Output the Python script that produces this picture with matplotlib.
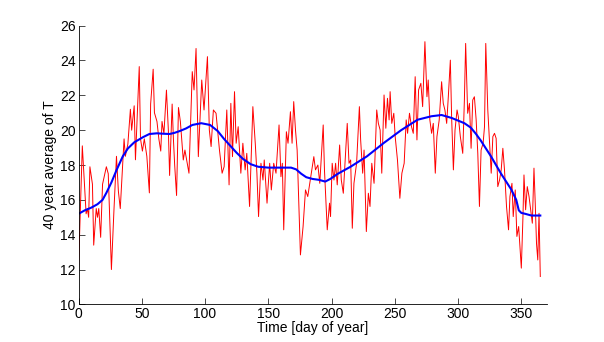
import numpy as np
import matplotlib
matplotlib.use('Agg')
import matplotlib.pyplot as plt

# daily 40-year mean temperature (peaks and troughs)
days = [0, 3, 6, 7, 8, 9, 11, 12, 14, 15, 16, 17.5, 19, 22, 23.5, 26, 28, 30, 31.5, 33,
        36, 37, 39, 41, 42, 44, 45, 48, 49, 50.5, 52, 54, 56, 57, 59, 60, 62, 63.5, 65, 66,
        67.5, 69.5, 71, 72, 74, 75, 76, 77.5, 79, 80.5,
        82.8, 84.1, 87.3, 89.9, 91.3, 92.9, 94.7, 97.4, 99.2, 101.9, 103.4, 104.8, 106.6,
        108.7, 111.4, 113.5, 115.1, 117.2, 119.0, 120.4, 121.7, 123.3, 124.6, 126.2, 128.3,
        129.9, 131.7, 133.0, 135.2, 137.8, 139.7, 141.0, 142.3, 144.2, 145.8, 146.8, 149.0,
        151.1, 152.4, 154.3, 156.1, 158.5, 160.0, 161.1, 162.2, 164.3, 165.6, 167.5, 168.8,
        170.1, 171.5, 172.8, 175.4,
        177.5, 179.4, 181.2, 182.8, 186.0, 187.3, 189.2, 190.7, 193.4, 194.4, 196.6, 198.4,
        199.2, 200.5, 201.9, 203.2, 204.5, 206.4, 207.7, 209.3, 210.6, 212.4, 213.8, 215.1,
        216.4, 217.7, 219.8, 222.0, 223.0, 224.6, 225.7, 227.5, 229.1, 230.4, 231.8, 233.6,
        235.7, 237.0, 238.4, 239.7, 241.5, 242.9, 244.2, 245.5, 246.3, 247.6, 249.2, 250.3,
        252.1, 254.0, 255.6, 257.4, 259.0, 260.1, 261.6, 263.2, 264.6, 266.1, 267.5, 268.8,
        270.6, 272.0,
        273.8, 275.4, 276.4, 277.7, 279.1, 280.4, 282.0, 283.3, 285.1, 287.0, 288.3, 289.6,
        291.0, 292.3, 293.9, 294.9, 296.3, 297.6, 299.2, 300.2, 301.8, 303.7, 305.0, 306.0,
        307.6, 309.0, 310.3, 311.6, 312.9, 314.3, 315.6, 316.9, 318.2, 319.8, 320.9, 321.9,
        323.5, 324.8, 326.2, 327.5, 328.8, 330.1, 331.4, 332.8, 334.1, 335.4, 336.7, 338.3,
        339.9, 341.0, 342.6, 343.6, 345.2, 346.5, 347.9, 350.0, 351.3, 352.1, 353.4, 354.7,
        356.1, 357.4, 358.7, 360.0, 361.0, 362.0, 363.0, 364.0, 365.0]
temps = [12.0, 19.1, 15.2, 15.5, 15.0, 17.9, 16.9, 13.4, 15.5, 15.0, 15.5, 13.85, 16.9, 17.9,
         17.5, 12.0, 15.4, 18.5, 16.5, 15.5, 19.5, 18.5, 19.2, 21.2, 20.0, 21.4, 18.3, 23.65,
         19.5, 18.8, 19.5, 18.5, 16.4, 21.5, 23.5, 21.0, 20.5, 19.5, 18.8, 20.5, 19.8, 22.3,
         20.0, 17.4, 21.5, 19.5, 18.0, 16.25, 21.3, 20.5,
         18.29, 18.86, 17.53, 23.36, 22.31, 24.69, 18.48, 22.88, 21.16, 24.22, 20.01, 19.06,
         21.16, 20.97, 18.86, 17.53, 17.91, 21.16, 16.86, 21.54, 18.48, 22.21, 19.25, 20.2,
         17.53, 19.25, 17.72, 18.67, 15.62, 21.35, 19.25, 17.53, 15.04, 18.1, 17.14, 18.29,
         15.81, 18.1, 16.57, 18.1, 17.53, 20.3, 17.33, 18.1, 14.28, 19.91, 19.25, 21.06,
         19.25, 21.64, 20.01, 18.86, 12.84,
         14.47, 16.57, 16.19, 16.95, 18.48, 17.72, 18.0, 16.95, 20.3, 17.72, 14.28, 15.81,
         15.04, 18.1, 17.14, 18.1, 16.86, 19.15, 17.14, 16.38, 18.1, 20.39, 18.1, 18.29,
         14.37, 16.95, 18.1, 21.35, 19.44, 17.53, 18.86, 14.18, 16.38, 15.62, 18.1, 16.95,
         21.16, 20.39, 20.01, 17.53, 22.02, 20.11, 21.83, 20.59, 22.21, 20.39, 20.97, 19.63,
         18.29, 16.09, 17.53, 18.1, 20.59, 19.82, 20.97, 20.2, 19.82, 23.07, 19.44, 22.31,
         22.69, 21.35,
         25.08, 21.92, 22.88, 20.59, 19.82, 20.39, 17.53, 19.63, 20.59, 22.78, 21.54, 21.16,
         20.39, 21.92, 24.02, 20.78, 17.72, 20.01, 21.16, 20.78, 19.63, 18.67, 21.73, 24.98,
         20.97, 21.54, 18.96, 21.73, 21.92, 20.59, 18.67, 15.62, 18.86, 19.25, 20.2, 24.98,
         21.16, 19.44, 17.53, 19.63, 19.82, 19.53, 16.76, 17.14, 17.72, 18.96, 17.72, 15.62,
         14.28, 16.19, 16.95, 15.04, 16.57, 13.9, 14.47, 12.08, 15.04, 17.43, 15.43, 16.76,
         16.19, 15.43, 14.66, 17.82, 15.81, 13.51, 12.55, 15.23, 11.6]

# smoothed curve
smooth_days = [0, 5, 10, 15, 19, 22, 26, 30, 35, 39, 44, 51, 56, 62, 66, 72, 76, 80, 85, 90,
               97, 104, 110, 115, 120, 125, 130, 136, 142, 150, 160, 168, 172, 176, 180, 185,
               190, 195, 199, 205, 215, 228, 241, 255, 268, 279, 287, 295, 300, 305, 310, 314,
               318, 326, 334, 342, 346, 348, 350, 353, 358, 365]
smooth_temps = [15.2, 15.4, 15.55, 15.75, 16.0, 16.4, 17.0, 17.7, 18.5, 18.95, 19.3, 19.6,
                19.78, 19.82, 19.8, 19.78, 19.85, 19.95, 20.1, 20.3, 20.4, 20.3, 19.95, 19.5,
                19.1, 18.7, 18.35, 18.05, 17.9, 17.85, 17.85, 17.85, 17.75, 17.5, 17.3, 17.2,
                17.15, 17.05, 17.2, 17.5, 17.9, 18.5, 19.25, 20.0, 20.6, 20.8, 20.87, 20.7,
                20.55, 20.4, 20.15, 19.8, 19.4, 18.5, 17.5, 16.6, 16.0, 15.4, 15.25, 15.2,
                15.1, 15.1]

plt.rcParams['font.family'] = ['Liberation Sans', 'DejaVu Sans']
plt.rcParams['font.size'] = 10

fig = plt.figure(figsize=(6.04, 3.42), dpi=100)
ax = fig.add_axes([0.13, 0.11, 0.775, 0.815])
ax.plot(days, temps, color='red', lw=0.7)
ax.plot(smooth_days, smooth_temps, color='blue', lw=1.5)

ax.set_xlim(0, 370)
ax.set_ylim(10, 26)
ax.set_xticks(np.arange(0, 351, 50))
ax.set_yticks(np.arange(10, 27, 2))
ax.tick_params(direction='in', length=4, width=0.5, pad=2)
for s in ['top', 'right']:
    ax.spines[s].set_visible(False)
for s in ['left', 'bottom']:
    ax.spines[s].set_linewidth(0.6)
ax.set_xlabel('Time [day of year]', labelpad=0)
ax.set_ylabel('40 year average of T', labelpad=2)

fig.savefig('out.png', dpi=100)
